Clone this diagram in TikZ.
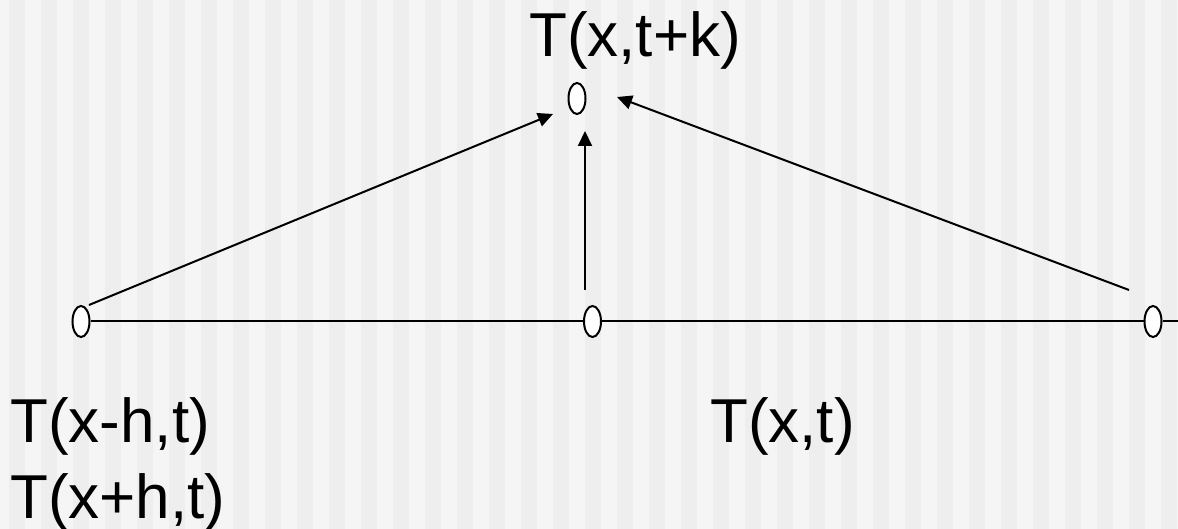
\documentclass[tikz,border=0pt]{standalone}
\usepackage{fontspec}
\setmainfont{Liberation Sans}
\usetikzlibrary{shapes.geometric,arrows.meta}
\definecolor{stripelight}{HTML}{F5F5F5}
\definecolor{stripedark}{HTML}{EEEEEE}
\tikzset{
  pt/.style={ellipse,draw=black,fill=white,line width=2pt,minimum width=17pt,minimum height=31pt,inner sep=0pt},
  conn/.style={line width=2pt,draw=black},
  arr/.style={line width=2pt,draw=black,-{Triangle[length=15pt,width=14pt]}},
  lbl/.style={anchor=base west,inner sep=0pt,font=\fontsize{62}{70}\selectfont}
}
\begin{document}
\begin{tikzpicture}[x=1pt,y=-1pt]
\useasboundingbox (0,0) rectangle (1178,529);
\fill[stripelight] (0,0) rectangle (1178,529);
\foreach \k in {0,...,36} {
  \fill[stripedark] ({9+32*\k},0) rectangle ({25+32*\k},529);
}
% points
\node[pt] (L) at (81,321.5) {};
\node[pt] (M) at (592.5,321.5) {};
\node[pt] (R) at (1153,321.5) {};
\node[pt] (Top) at (577,98.5) {};
\coordinate (Rend) at (1178,321.5);
% baseline
\draw[conn] (L) -- (M);
\draw[conn] (M) -- (R);
\draw[conn] (R) -- (Rend);
% arrows
\coordinate (la) at (89,305);
\coordinate (lb) at (553,114);
\coordinate (ma) at (585,290);
\coordinate (mb) at (585,131);
\coordinate (ra) at (1129,290);
\coordinate (rb) at (617,97);
\draw[arr] (la) -- (lb);
\draw[arr] (ma) -- (mb);
\draw[arr] (ra) -- (rb);
% labels
\node[lbl] (tTop) at (529,57) {T(x,t+k)};
\node[lbl] (tL1) at (10,442) {T(x-h,t)};
\node[lbl] (tL2) at (10,518) {T(x+h,t)};
\node[lbl] (tM) at (710,442) {T(x,t)};
\end{tikzpicture}
\end{document}
